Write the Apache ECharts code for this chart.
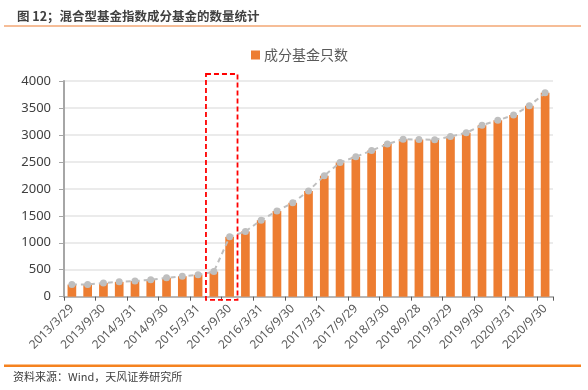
<!DOCTYPE html>
<html><head><meta charset="utf-8">
<script src="https://cdn.jsdelivr.net/npm/echarts@6/dist/echarts.min.js"></script>
<style>html,body{margin:0;padding:0;background:#fff}#c{width:588px;height:390px}</style>
</head><body><div id="c"></div>
<script>
const categories = [
  '2013/3/29','2013/6/28','2013/9/30','2013/12/31',
  '2014/3/31','2014/6/30','2014/9/30','2014/12/31',
  '2015/3/31','2015/6/30','2015/9/30','2015/12/31',
  '2016/3/31','2016/6/30','2016/9/30','2016/12/30',
  '2017/3/31','2017/6/30','2017/9/29','2017/12/29',
  '2018/3/30','2018/6/29','2018/9/28','2018/12/28',
  '2019/3/29','2019/6/28','2019/9/30','2019/12/31',
  '2020/3/31','2020/6/30','2020/9/30'
];
const fundCounts = [
  225, 225, 255, 275, 290, 315, 350, 380,
  405, 465, 1110, 1210, 1420, 1590, 1740, 1960,
  2245, 2490, 2595, 2710, 2830, 2920, 2915, 2910,
  2970, 3040, 3180, 3270, 3370, 3540, 3780
];
const seriesName = '成分基金只数';
const highlightRange = ['2015/6/30', '2015/9/30'];
const highlightValueRange = [4130, -60];

const font = "'Noto Sans', 'Noto Sans CJK SC', sans-serif";
const chart = echarts.init(document.getElementById('c'), null, {renderer: 'canvas'});
const hi0 = categories.indexOf(highlightRange[0]);
const hi1 = categories.indexOf(highlightRange[1]);

chart.setOption({
  animation: false,
  backgroundColor: '#fff',
  textStyle: {fontFamily: font},
  title: {
    text: '图 12；混合型基金指数成分基金的数量统计',
    left: 12, top: 5,
    textStyle: {fontSize: 12.5, fontWeight: 'bold', color: '#404040', fontFamily: "'Noto Sans CJK SC', sans-serif"}
  },
  legend: {
    data: [seriesName],
    left: 246, top: 43,
    itemWidth: 9, itemHeight: 9, itemGap: 4,
    icon: 'rect',
    textStyle: {fontSize: 14, color: '#595959', fontFamily: "'Noto Sans CJK SC', sans-serif", padding: [0,0,0,-1]}
  },
  graphic: [
    {type: 'line', shape: {x1: 4, y1: 26, x2: 581, y2: 26}, style: {stroke: '#ED7D31', lineWidth: 1.2}},
    {type: 'line', shape: {x1: 4, y1: 365.7, x2: 581, y2: 365.7}, style: {stroke: '#F5821F', lineWidth: 2.5}},
    {type: 'text', left: 13, top: 371, style: {text: '资料来源：Wind，天风证券研究所', fontSize: 11, fill: '#404040', fontFamily: "'Noto Sans CJK SC', sans-serif"}}
  ],
  grid: {left: 64, right: 35, top: 81, bottom: 93.3, containLabel: false},
  xAxis: {
    type: 'category',
    data: categories,
    axisLine: {lineStyle: {color: '#A6A6A6', width: 1.5}},
    axisTick: {show: true, length: 4, lineStyle: {color: '#595959'}},
    axisLabel: {interval: 1, rotate: 45, fontSize: 12, color: '#595959', margin: 10}
  },
  yAxis: {
    type: 'value', min: 0, max: 4000, interval: 500,
    axisLine: {show: true, lineStyle: {color: '#A6A6A6', width: 2}},
    axisTick: {show: true, length: 5, lineStyle: {color: '#A6A6A6'}},
    splitLine: {lineStyle: {color: '#E4E4E4', width: 1.5}},
    axisLabel: {fontSize: 13, color: '#404040', margin: 13, formatter: function (v) { return String(v); }}
  },
  series: [
    {
      name: seriesName, type: 'bar', data: fundCounts, barWidth: '55%',
      itemStyle: {color: '#ED7D31'}
    },
    {
      name: 'line', type: 'line', data: fundCounts, z: 3,
      symbol: 'circle', symbolSize: 7,
      itemStyle: {color: '#BFBFBF'},
      lineStyle: {color: '#BFBFBF', width: 2, type: [5, 4]}
    },
    {
      name: 'box', type: 'custom', clip: false, z: 5, silent: true,
      data: [[hi0, hi1, highlightValueRange[0], highlightValueRange[1]]],
      encode: {x: [0, 1], y: [2, 3]},
      renderItem: function (params, api) {
        const p0 = api.coord([api.value(0), api.value(2)]);
        const p1 = api.coord([api.value(1), api.value(3)]);
        const band = api.size([1, 0])[0];
        return {
          type: 'rect',
          shape: {x: p0[0] - band / 2, y: p0[1], width: p1[0] - p0[0] + band, height: p1[1] - p0[1]},
          style: {fill: 'none', stroke: '#FF0000', lineWidth: 1.8, lineDash: [5, 3]}
        };
      }
    }
  ]
});
</script></body></html>
